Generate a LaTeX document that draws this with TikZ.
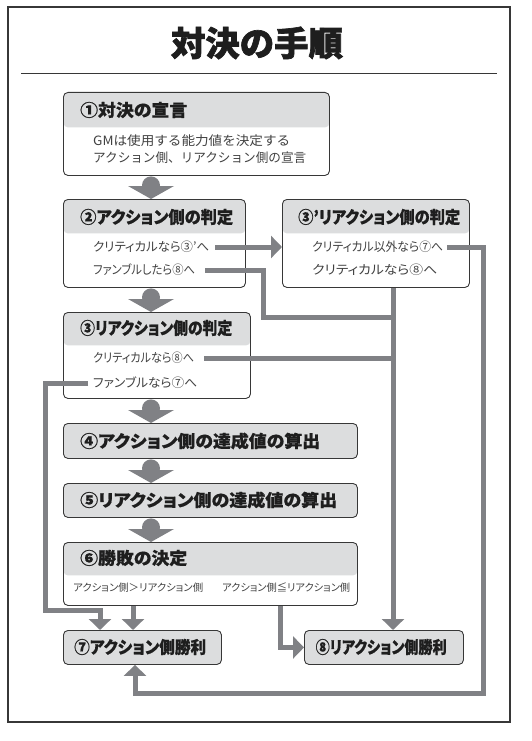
\documentclass[tikz,border=0pt]{standalone}
\usepackage{fontspec}
\usepackage{graphicx}
\newfontfamily\jp{Noto Sans CJK JP}[RawFeature=+palt, BoldFeatures={FakeBold=0.6}]
\newfontfamily\jpn{Noto Sans CJK JP}
\newfontfamily\jpt{Noto Sans CJK JP}[BoldFeatures={FakeBold=2}]
\usetikzlibrary{arrows.meta,calc}
\definecolor{hdr}{RGB}{220,221,222}
\definecolor{conngray}{RGB}{128,129,133}
\definecolor{edge}{RGB}{55,55,55}
\definecolor{txt}{RGB}{30,30,30}
\definecolor{btxt}{RGB}{65,65,65}
\newcommand\fw[2]{\resizebox{#1pt}{\height}{#2}}
\newcommand\blk[2]{%
  \fill[conngray] ([xshift=88pt,yshift=-9.5pt]#1.south west) circle (9pt);
  \fill[conngray] ([xshift=65pt,yshift=13pt]#2.north west) -- ([xshift=111pt,yshift=13pt]#2.north west) -- ([xshift=88pt]#2.north west) -- cycle;}
\begin{document}
\begin{tikzpicture}[x=1pt,y=-1pt,
  box/.style={draw=edge, line width=0.9pt, rounded corners=4.5pt, fill=white, inner sep=0pt, anchor=north west},
  hbox/.style={box, path picture={\fill[hdr] ([yshift=1pt]path picture bounding box.north west) rectangle ([yshift=-#1]path picture bounding box.north east);}},
  fbox/.style={box, fill=hdr},
  head/.style={anchor=west, inner sep=0pt, font=\jp\bfseries\fontsize{17}{20}\selectfont, text=txt},
  body/.style={anchor=west, inner sep=0pt, font=\jp\fontsize{12.5}{15}\selectfont, text=btxt},
  bodyn/.style={anchor=west, inner sep=0pt, font=\jpn\fontsize{12.8}{15}\selectfont, text=btxt},
  small/.style={anchor=west, inner sep=0pt, font=\jp\fontsize{10.3}{12}\selectfont, text=btxt},
  conn/.style={draw=conngray, line width=5pt},
  cto/.style={conn, -{Triangle[width=22pt,length=11pt]}},
]
\useasboundingbox (0,0) rectangle (531,741);
% frame and title
\draw[edge, line width=1.4pt] (8,7) rectangle (510,722);
\node[font=\jpt\bfseries\fontsize{34}{40}\selectfont, text=txt, inner sep=0pt] (title) at (257,43) {\fw{172}{対決の手順}};
\draw[edge, line width=1pt] (21,74) -- (497,74);

% boxes
\node[hbox=35pt, minimum width=266pt, minimum height=83pt] (b1) at (63,92) {};
\node[hbox=34pt, minimum width=182pt, minimum height=88pt] (b2) at (63,199) {};
\node[hbox=34pt, minimum width=187pt, minimum height=88pt] (b3p) at (282,199) {};
\node[hbox=33pt, minimum width=187pt, minimum height=86pt] (b3) at (63,312) {};
\node[fbox, minimum width=294pt, minimum height=35pt] (b4) at (63,423) {};
\node[fbox, minimum width=294pt, minimum height=34pt] (b5) at (63,483) {};
\node[hbox=33pt, minimum width=294pt, minimum height=63pt] (b6) at (63,542) {};
\node[fbox, minimum width=158pt, minimum height=34pt] (b7) at (63,630) {};
\node[fbox, minimum width=159pt, minimum height=34pt] (b8) at (304,630) {};

% texts
\node[head] (h1) at (80,110) {\fw{107}{①対決の宣言}};
\node[bodyn] (t1a) at (93,141) {\fw{197}{GMは使用する能力値を決定する}};
\node[bodyn] (t1b) at (93,158) {\fw{213}{アクション側、リアクション側の宣言}};

\node[head] (h2) at (80,217) {\fw{153}{②アクション側の判定}};
\node[body] (t2a) at (93,247) {\fw{116}{クリティカルなら③’へ}};
\node[body] (t2b) at (93,270) {\fw{102}{ファンブルしたら⑧へ}};

\node[head] (h3p) at (298,217) {\fw{162}{③’リアクション側の判定}};
\node[body] (t3pa) at (312,247) {\fw{131}{クリティカル以外なら⑦へ}};
\node[body] (t3pb) at (312,270) {\fw{125}{クリティカルなら⑧へ}};

\node[head] (h3) at (80,328) {\fw{152}{③リアクション側の判定}};
\node[body] (t3a) at (93,358) {\fw{101}{クリティカルなら⑧へ}};
\node[body] (t3b) at (93,383) {\fw{104}{ファンブルなら⑦へ}};

\node[head] (h4) at (80,441) {\fw{240}{④アクション側の達成値の算出}};
\node[head] (h5) at (80,500) {\fw{257}{⑤リアクション側の達成値の算出}};
\node[head] (h6) at (80,558) {\fw{107}{⑥勝敗の決定}};
\node[small] (s6a) at (73,588) {\fw{130}{アクション側＞リアクション側}};
\node[small] (s6b) at (222,588) {\fw{128}{アクション側≦リアクション側}};
\node[head] (h7) at (74,647) {\fw{132}{⑦アクション側勝利}};
\node[head] (h8) at (315.5,647) {\fw{131}{⑧リアクション側勝利}};

% block arrows
\blk{b1}{b2}
\blk{b2}{b3}
\blk{b3}{b4}
\blk{b4}{b5}
\blk{b5}{b6}

% connectors
\coordinate (v8) at (393,0);
\coordinate (k2) at (263,317);
\coordinate (k4) at (483,693);
\coordinate (k5) at (45,610);
\draw[cto] ([xshift=6pt]t2a.east) -- (t2a.east -| b3p.west);
\draw[conn] ([xshift=10pt]t2b.east) -| (k2) -- (k2 -| v8);
\draw[conn] ([xshift=10pt]t3a.east) -- (t3a.east -| v8);
\draw[cto] (b3p.south -| v8) -- (b8.north -| v8);
\draw[cto] ([xshift=4pt]t3pa.east) -| (k4) -| ([xshift=72pt]b7.south west);
\draw[cto] ([xshift=-5pt]t3b.west) -| (k5) -| ([xshift=37pt]b7.north west);
\draw[cto] ([xshift=70pt]b6.south west) -- ([xshift=70pt]b7.north west);
\draw[cto] ([xshift=217pt]b6.south west) |- (b8.west);
\end{tikzpicture}
\end{document}
